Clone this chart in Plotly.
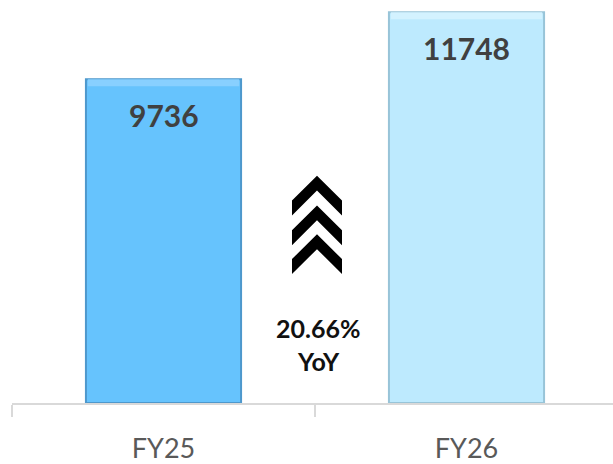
import plotly.graph_objects as go

# ---- data ----
categories = ["FY25", "FY26"]
values = [9736, 11748]
growth_text = "20.66%"
growth_unit = "YoY"

# ---- styles ----
bar_fill = ["#66C3FD", "#BDEAFE"]
bar_top = ["#88D0FF", "#D3F2FF"]
bar_edge = ["#4E98CC", "#98C4D8"]
W, H = 613, 464
ML, MR, MT, MB = 12, 0, 0, 58
PW, PH = W - ML - MR, H - MT - MB
Y_MAX = 12120
BEVEL_PX = 7

def px(x):
    return (x - ML) / PW

def py(y):
    return (PH + MT - y) / PH

bevel = BEVEL_PX * Y_MAX / PH

fig = go.Figure()
fig.add_trace(go.Bar(
    x=categories, y=values,
    marker=dict(color=bar_fill, line=dict(color=bar_edge, width=2)),
    hoverinfo="skip",
))
fig.add_trace(go.Bar(
    x=categories, y=[bevel] * len(values), base=[v - bevel for v in values],
    marker=dict(color=bar_top, line=dict(color=bar_edge, width=0)),
    width=0.5, hoverinfo="skip",
))

annotations = []
for c, v in zip(categories, values):
    annotations.append(dict(
        x=c, y=v, xref="x", yref="y", text=f"<b>{v}</b>", showarrow=False,
        xanchor="center", yanchor="middle", yshift=-36,
        font=dict(family="Lato", size=30, color="#404040"),
    ))

annotations.append(dict(x=px(318), y=py(330), xref="paper", yref="paper",
                        xanchor="center", yanchor="middle",
                        text=f"<b>{growth_text}</b>", showarrow=False,
                        font=dict(family="Lato", size=25, color="#111111")))
annotations.append(dict(x=px(318), y=py(364), xref="paper", yref="paper",
                        xanchor="center", yanchor="middle",
                        text=f"<b>{growth_unit}</b>", showarrow=False,
                        font=dict(family="Lato", size=25, color="#111111")))

# chevrons (decoration)
shapes = []
cx = 317
for ay in (177, 207, 236):
    pts = [(cx, ay), (cx - 25, ay + 25), (cx - 25, ay + 40), (cx, ay + 15),
           (cx + 25, ay + 40), (cx + 25, ay + 25)]
    path = "M " + " L ".join(f"{px(x):.5f},{py(y):.5f}" for x, y in pts) + " Z"
    shapes.append(dict(type="path", xref="paper", yref="paper", path=path,
                       fillcolor="#000000", line=dict(width=0)))

fig.update_layout(
    width=W, height=H,
    margin=dict(l=ML, r=MR, t=MT, b=MB),
    paper_bgcolor="white", plot_bgcolor="white",
    showlegend=False,
    barmode="overlay",
    bargap=0.488,
    annotations=annotations,
    shapes=shapes,
    xaxis=dict(
        type="category", range=[-0.5, -0.5 + PW / 303],
        showline=True, linecolor="#D9D9D9", linewidth=2,
        ticks="outside", tickson="boundaries", ticklen=12, tickwidth=2,
        tickcolor="#D9D9D9", showgrid=False, zeroline=False,
        tickfont=dict(family="Lato", size=27, color="#595959"),
        ticklabelstandoff=21,
    ),
    yaxis=dict(range=[0, Y_MAX], visible=False, showgrid=False, zeroline=False),
)

fig.write_html("out.html", config={"displayModeBar": False},
               post_script="document.body.style.margin='0';document.body.style.overflow='hidden';")
